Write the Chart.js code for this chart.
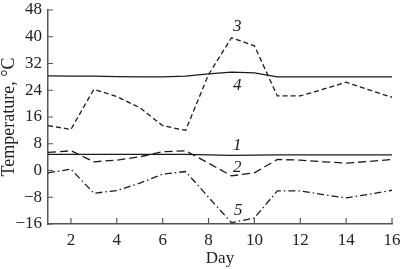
<!DOCTYPE html>
<html><head><meta charset="utf-8">
<script src="https://cdn.jsdelivr.net/npm/chart.js@4.4.0/dist/chart.umd.min.js"></script>
<style>html,body{margin:0;padding:0;background:#fff}#wrap{width:400px;height:269px}</style>
</head><body><div id="wrap"><canvas id="c" width="400" height="269"></canvas></div>
<script>
const days = [1,2,3,4,5,6,7,8,9,10,11,12,13,14,15,16];
const series1 = [4.8,4.8,4.8,4.8,4.8,4.8,4.8,4.7,4.5,4.6,4.7,4.7,4.7,4.7,4.7,4.7];
const series2 = [5.4,5.9,2.6,3.1,4.1,5.6,5.9,2.2,-1.6,-0.7,3.3,3.1,2.6,2.2,2.7,3.3];
const series3 = [13.4,12.3,24.3,22.1,18.8,13.4,12.0,28.7,39.7,37.3,22.3,22.3,24.3,26.4,24.1,21.9];
const series4 = [28.3,28.2,28.2,28.1,28.0,28.0,28.2,28.9,29.4,29.2,28.0,28.0,28.0,28.0,28.0,28.0];
const series5 = [-0.7,0.4,-6.8,-6.0,-3.8,-1.1,-0.3,-8.0,-15.6,-14.2,-6.1,-6.1,-7.2,-8.2,-7.1,-5.9];
const xTicks = [2,4,6,8,10,12,14,16];
const yTicks = [-16,-8,0,8,16,24,32,40,48];
const seriesLabels = ['1','2','3','4','5'];
const labelDays = [9.25,9.25,9.25,9.25,9.3];
const labelTemps = [7.5,1.0,43.2,25.4,-12.1];

Chart.defaults.font.family = '"Liberation Serif", "Times New Roman", serif';
Chart.defaults.font.size = 17;
Chart.defaults.color = '#222';

const ink = '#1a1a1a';
const axisCol = '#555';
function mk(vals, dash) {
  return {
    data: days.map((d, i) => ({x: d, y: vals[i]})),
    borderColor: ink, borderWidth: 1.3, borderDash: dash,
    pointRadius: 0, tension: 0, fill: false
  };
}

const innerTicks = {
  id: 'innerTicks',
  afterDatasetsDraw(chart) {
    const {ctx, scales: {x, y}, chartArea: a} = chart;
    ctx.save();
    ctx.strokeStyle = axisCol; ctx.lineWidth = 1.2; ctx.setLineDash([]);
    ctx.beginPath();
    x.ticks.forEach(t => { const px = x.getPixelForValue(t.value); ctx.moveTo(px, a.bottom); ctx.lineTo(px, a.bottom - 6); });
    y.ticks.forEach(t => { const py = y.getPixelForValue(t.value); ctx.moveTo(a.left, py); ctx.lineTo(a.left + 5, py); });
    ctx.stroke();
    ctx.font = 'italic 17px "Liberation Serif", serif';
    ctx.fillStyle = '#222'; ctx.textAlign = 'center'; ctx.textBaseline = 'middle';
    seriesLabels.forEach((s, i) => ctx.fillText(s, x.getPixelForValue(labelDays[i]), y.getPixelForValue(labelTemps[i])));
    ctx.restore();
  }
};

new Chart(document.getElementById('c'), {
  type: 'line',
  data: { datasets: [
    mk(series1, []), mk(series2, [8,4]), mk(series3, [5,3]), mk(series4, []), mk(series5, [7,3,1.5,3])
  ]},
  options: {
    responsive: false, animation: false, devicePixelRatio: 1,
    layout: { padding: { top: 10, right: 8, left: 0, bottom: 0 } },
    plugins: { legend: { display: false }, tooltip: { enabled: false } },
    scales: {
      x: {
        type: 'linear', min: 1, max: 16,
        afterBuildTicks: s => { s.ticks = xTicks.map(v => ({value: v})); },
        afterFit: s => { s.height = 45; s.paddingLeft = 0; s.paddingRight = 0; },
        grid: { drawOnChartArea: false, drawTicks: false },
        border: { color: axisCol, width: 1.5 },
        ticks: { padding: 6, maxRotation: 0, color: '#222' },
        title: { display: true, text: 'Day', font: { size: 17, lineHeight: 1 }, padding: { top: 0, bottom: 2 }, color: '#222' }
      },
      y: {
        type: 'linear', min: -16, max: 48,
        afterBuildTicks: s => { s.ticks = yTicks.map(v => ({value: v})); },
        afterFit: s => { s.width = 48; s.paddingTop = 0; s.paddingBottom = 0; },
        grid: { drawOnChartArea: false, drawTicks: false },
        border: { color: axisCol, width: 1.5 },
        ticks: { padding: 6, color: '#222', callback: v => String(v).replace('-', '\u2212') },
        title: { display: true, text: 'Temperature, °C', font: { size: 18, lineHeight: 1 }, padding: { top: 0, bottom: 0 }, color: '#222' }
      }
    }
  },
  plugins: [innerTicks]
});
</script></body></html>
